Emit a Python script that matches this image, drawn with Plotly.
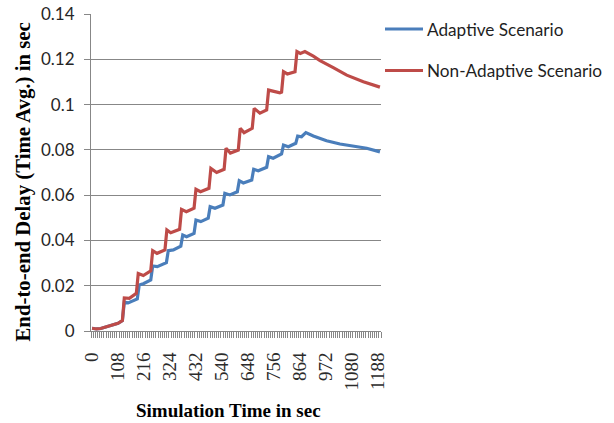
import plotly.graph_objects as go

# Series names
series_names = ["Adaptive Scenario", "Non-Adaptive Scenario"]
series_colors = ["#4A7EBB", "#BE4B48"]

# Simulation time (sec) and time-averaged end-to-end delay (sec)
adaptive_time = [0, 18, 36, 54, 72, 90, 108, 126,
                 134, 150, 188,
                 196, 213, 244,
                 252, 271, 309,
                 317, 338, 369,
                 377, 393, 424,
                 432, 452, 483,
                 491, 511, 544,
                 552, 573, 604,
                 612, 629, 664,
                 672, 691, 726,
                 734, 753, 788,
                 796, 816, 847,
                 855, 871, 889, 920, 975, 1031, 1086, 1142, 1197]
adaptive_delay = [0.0012, 0.0009, 0.0011, 0.0016, 0.0021, 0.0026, 0.0034, 0.0046,
                  0.0127, 0.0124, 0.0142,
                  0.0203, 0.0209, 0.0225,
                  0.0287, 0.0284, 0.0302,
                  0.0355, 0.0358, 0.0375,
                  0.0424, 0.0416, 0.0431,
                  0.0490, 0.0483, 0.0498,
                  0.0549, 0.0542, 0.0556,
                  0.0608, 0.0601, 0.0615,
                  0.0664, 0.0654, 0.0667,
                  0.0714, 0.0708, 0.0723,
                  0.0770, 0.0763, 0.0782,
                  0.0821, 0.0814, 0.0829,
                  0.0861, 0.0858, 0.0876, 0.0861, 0.0840, 0.0826, 0.0817, 0.0807, 0.0791]

nonadaptive_time = [0, 18, 36, 54, 72, 90, 108, 126,
                    134, 155, 184,
                    192, 213, 244,
                    252, 270, 303,
                    311, 327, 364,
                    372, 392, 424,
                    432, 451, 486,
                    494, 518, 549,
                    557, 575, 608,
                    616, 632, 666,
                    674, 698, 726,
                    734, 781, 788,
                    796, 812, 844,
                    852, 866, 885, 920, 948, 1003, 1059, 1128, 1197]
nonadaptive_delay = [0.0012, 0.0009, 0.0011, 0.0016, 0.0021, 0.0026, 0.0034, 0.0046,
                     0.0146, 0.0144, 0.0166,
                     0.0254, 0.0245, 0.0266,
                     0.0355, 0.0343, 0.0358,
                     0.0446, 0.0434, 0.0449,
                     0.0537, 0.0527, 0.0542,
                     0.0626, 0.0615, 0.0630,
                     0.0718, 0.0700, 0.0714,
                     0.0807, 0.0786, 0.0799,
                     0.0895, 0.0876, 0.0895,
                     0.0983, 0.0962, 0.0976,
                     0.1064, 0.1052, 0.1055,
                     0.1145, 0.1135, 0.1145,
                     0.1234, 0.1226, 0.1234, 0.1214, 0.1194, 0.1163, 0.1130, 0.1101, 0.1077]

x_tick_labels = [0, 108, 216, 324, 432, 540, 648, 756, 864, 972, 1080, 1188]
y_tick_values = [0, 0.02, 0.04, 0.06, 0.08, 0.1, 0.12, 0.14]
y_tick_labels = ["0", "0.02", "0.04", "0.06", "0.08", "0.1", "0.12", "0.14"]

AXIS_GRAY = "#878787"
SANS = "Lato, 'Open Sans', sans-serif"
SERIF = "'Liberation Serif', 'Times New Roman', serif"

fig = go.Figure()
for name, color, t, d in [
    (series_names[0], series_colors[0], adaptive_time, adaptive_delay),
    (series_names[1], series_colors[1], nonadaptive_time, nonadaptive_delay),
]:
    fig.add_trace(go.Scatter(x=t, y=d, mode="lines", name=name,
                             line=dict(color=color, width=3.2),
                             showlegend=False))

# Plot area in pixels
L, R, T, B = 91, 381, 14, 331
W, H = 614, 423


def px_x(p):
    return (p - L) / (R - L)


def px_y(p):
    return (B - p) / (B - T)


fig.update_layout(
    width=W, height=H,
    margin=dict(l=L, r=W - R, t=T, b=H - B, pad=0, autoexpand=False),
    paper_bgcolor="white", plot_bgcolor="white",
    xaxis=dict(
        range=[-4.5, 1201.5], showgrid=False, zeroline=False, automargin=False,
        showline=True, linecolor=AXIS_GRAY, linewidth=1,
        tickmode="array", tickvals=x_tick_labels,
        ticktext=[str(v) for v in x_tick_labels],
        tickangle=-90, ticks="",
        tickfont=dict(family=SERIF, size=19, color="#2b2b2b"),
        ticklabelstandoff=13,
        minor=dict(ticks="outside", tick0=-4.5, dtick=9, ticklen=6,
                   tickcolor=AXIS_GRAY, tickwidth=1, showgrid=False),
    ),
    yaxis=dict(
        range=[0, 0.14], zeroline=False, automargin=False,
        showgrid=True, gridcolor=AXIS_GRAY, gridwidth=1,
        showline=True, linecolor=AXIS_GRAY, linewidth=1,
        tickmode="array", tickvals=y_tick_values, ticktext=y_tick_labels,
        ticks="outside", ticklen=6, tickcolor=AXIS_GRAY,
        tickfont=dict(family=SANS, size=17, color="#262626"),
        ticklabelstandoff=6,
    ),
)

annotations = [
    dict(text="End-to-end Delay (Time Avg.) in sec", textangle=-90,
         x=px_x(22), y=px_y(182.5), xref="paper", yref="paper",
         xanchor="center", yanchor="middle", showarrow=False,
         font=dict(family=SERIF, size=20.8, color="black", weight="bold")),
    dict(text="Simulation Time in sec",
         x=px_x(228.5), y=px_y(410), xref="paper", yref="paper",
         xanchor="center", yanchor="middle", showarrow=False,
         font=dict(family=SERIF, size=19, color="black", weight="bold")),
]

# Legend entries: line sample followed by the series name
shapes = []
for i, (name, color) in enumerate(zip(series_names, series_colors)):
    row_y = [29, 70.5][i]
    shapes.append(dict(type="line", xref="paper", yref="paper",
                       x0=px_x(385), x1=px_x(423), y0=px_y(row_y), y1=px_y(row_y),
                       line=dict(color=color, width=3.2)))
    annotations.append(dict(text=name, x=px_x(425), y=px_y(row_y),
                            xref="paper", yref="paper", xanchor="left",
                            yanchor="middle", showarrow=False,
                            font=dict(family=SANS, size=17.2, color="#1f1f1f")))

fig.update_layout(annotations=annotations, shapes=shapes)

fig.write_html("out.html")
